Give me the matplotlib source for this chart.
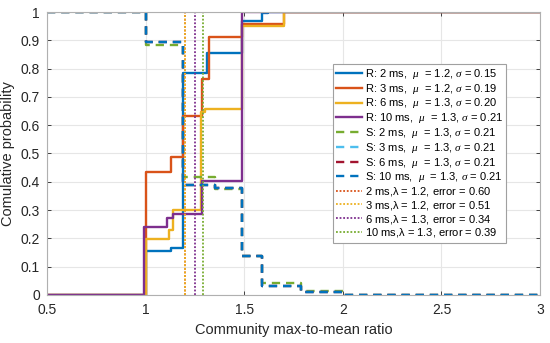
import matplotlib
matplotlib.use("Agg")
import matplotlib.pyplot as plt
import numpy as np

plt.rcParams['font.family'] = ['Liberation Sans', 'DejaVu Sans']
plt.rcParams['mathtext.fontset'] = 'custom'
plt.rcParams['mathtext.it'] = 'Liberation Serif:italic'
plt.rcParams['mathtext.rm'] = 'Liberation Sans'

# MATLAB default colours
c_blue = '#0072BD'
c_orange = '#D95319'
c_yellow = '#EDB120'
c_purple = '#7E2F8E'
c_green = '#77AC30'
c_cyan = '#4DBEEE'
c_red = '#A2142F'

# R curves (measured CDFs): step breakpoints and values (post)
r2_x = [0.5, 1.0, 1.13, 1.19, 1.31, 1.49, 1.59, 1.62, 3.0]
r2_y = [0.0, 0.157, 0.165, 0.785, 0.855, 0.968, 0.995, 1.0, 1.0]
r3_x = [0.5, 1.0, 1.13, 1.19, 1.285, 1.32, 1.49, 1.70, 3.0]
r3_y = [0.0, 0.436, 0.489, 0.632, 0.763, 0.91, 0.956, 1.0, 1.0]
r6_x = [0.5, 1.0, 1.12, 1.14, 1.28, 1.30, 1.49, 1.70, 3.0]
r6_y = [0.0, 0.198, 0.23, 0.30, 0.645, 0.657, 0.952, 1.0, 1.0]
r10_x = [0.5, 0.99, 1.11, 1.14, 1.285, 1.49, 3.0]
r10_y = [0.0, 0.241, 0.272, 0.286, 0.404, 1.0, 1.0]

# S curves (simulated): all nearly identical
s_x = [0.5, 1.0, 1.19, 1.35, 1.49, 1.59, 1.79, 2.0, 3.0]
s2_y = [1.0, 0.885, 0.418, 0.373, 0.139, 0.041, 0.015, 0.0, 0.0]
s3_y = [1.0, 0.893, 0.389, 0.377, 0.139, 0.032, 0.012, 0.0, 0.0]
s6_y = [1.0, 0.893, 0.389, 0.377, 0.139, 0.032, 0.012, 0.0, 0.0]
s10_y = [1.0, 0.893, 0.389, 0.377, 0.139, 0.032, 0.012, 0.0, 0.0]

# estimated lambda thresholds
lam_x = [1.2, 1.2, 1.25, 1.29]

r_labels = [r'R: 2 ms,  $\mu$  = 1.2, $\sigma$ = 0.15',
            r'R: 3 ms,  $\mu$  = 1.2, $\sigma$ = 0.19',
            r'R: 6 ms,  $\mu$  = 1.3, $\sigma$ = 0.20',
            r'R: 10 ms,  $\mu$  = 1.3, $\sigma$ = 0.21']
s_labels = [r'S: 2 ms,  $\mu$  = 1.3, $\sigma$ = 0.21',
            r'S: 3 ms,  $\mu$  = 1.3, $\sigma$ = 0.21',
            r'S: 6 ms,  $\mu$  = 1.3, $\sigma$ = 0.21',
            r'S: 10 ms,  $\mu$  = 1.3, $\sigma$ = 0.21']
lam_labels = [r'2 ms,$\mathrm{λ}$ = 1.2, error = 0.60',
              r'3 ms,$\mathrm{λ}$ = 1.2, error = 0.51',
              r'6 ms,$\mathrm{λ}$ = 1.3, error = 0.34',
              r'10 ms,$\mathrm{λ}$ = 1.3, error = 0.39']

fig = plt.figure(figsize=(5.5, 3.43), dpi=100)
ax = fig.add_axes([0.0855, 0.14, 0.8965, 0.825])

r_x = [r2_x, r3_x, r6_x, r10_x]
r_y = [r2_y, r3_y, r6_y, r10_y]
r_cols = [c_blue, c_orange, c_yellow, c_purple]
for xs, ys, c, lab in zip(r_x, r_y, r_cols, r_labels):
    ax.step(xs, ys, where='post', color=c, lw=1.7, label=lab)

s_y = [s2_y, s3_y, s6_y, s10_y]
s_cols = [c_green, c_cyan, c_red, c_blue]
for ys, c, lab in zip(s_y, s_cols, s_labels):
    ax.step(s_x, ys, where='post', color=c, lw=1.7, ls=(0, (3.5, 2.5)), label=lab)

lam_cols = [c_orange, c_yellow, c_purple, c_green]
for xv, c, lab in zip(lam_x, lam_cols, lam_labels):
    ax.plot([xv, xv], [0, 1], color=c, lw=1.3, ls=(0, (1, 1)), label=lab)

ax.set_xlim(0.5, 3)
ax.set_ylim(0, 1)
ax.set_xticks(np.arange(0.5, 3.01, 0.5))
ax.set_xticklabels(['0.5', '1', '1.5', '2', '2.5', '3'])
ax.set_yticks(np.arange(0, 1.01, 0.1))
ax.set_yticklabels(['0'] + ['%.1f' % v for v in np.arange(0.1, 0.95, 0.1)] + ['1'])
ax.grid(True, color='#e6e6e6', lw=0.8)
ax.set_axisbelow(True)
ax.tick_params(direction='in', top=True, right=True, labelsize=10,
               colors='#262626', length=3, width=0.6)
ax.tick_params(axis='x', pad=6)
ax.tick_params(axis='y', pad=5)
for s in ax.spines.values():
    s.set_color('#b0b0b0')
    s.set_linewidth(0.8)

ax.set_xlabel('Community max-to-mean ratio', fontsize=10.5, color='#262626', labelpad=4)
ax.set_ylabel('Comulative probability', fontsize=10.5, color='#262626', labelpad=4)

leg = ax.legend(loc='upper left', bbox_to_anchor=(0.58, 0.818), fontsize=8,
                labelspacing=0.07, handlelength=2.3, handletextpad=0.25,
                borderpad=0.3, borderaxespad=0, fancybox=False, framealpha=1)
leg.get_frame().set_edgecolor('#a0a0a0')
leg.get_frame().set_linewidth(0.8)

fig.savefig('out.png', dpi=100)
